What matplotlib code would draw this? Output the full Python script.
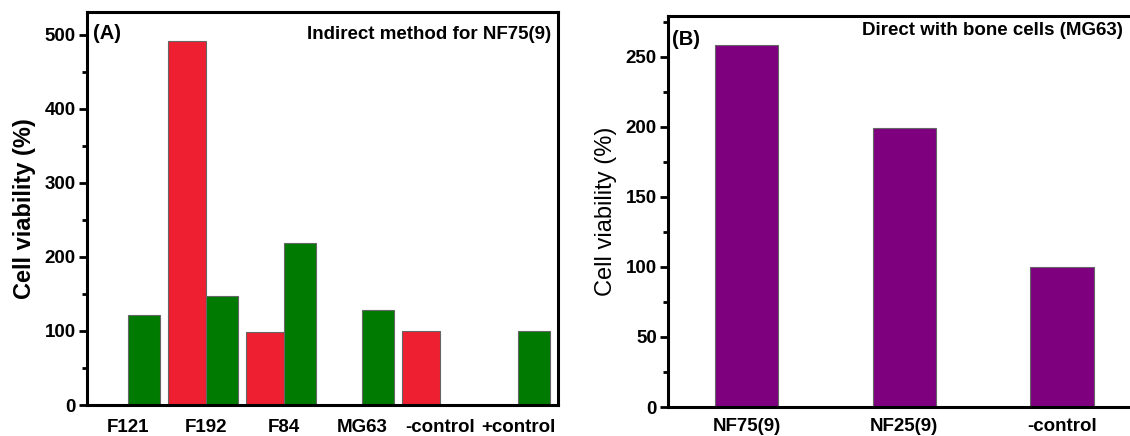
import numpy as np
from matplotlib import pyplot as plt
from matplotlib.ticker import MultipleLocator

plt.rcParams['font.family'] = ['Liberation Sans', 'DejaVu Sans']

# panel A data
kelompok_a = ["F121", "F192", "F84", "MG63", "-control", "+control"]
merah_a = [np.nan, 491, 98, np.nan, 100, np.nan]
hijau_a = [122, 147, 219, 128, np.nan, 100]

# panel B data
kelompok_b = ["NF75(9)", "NF25(9)", "-control"]
ungu_b = [258, 199, 100]

fig = plt.figure(figsize=(11.3, 4.36), dpi=100)

# grafik A
ax1 = fig.add_axes([0.077, 0.0711, 0.417, 0.9991 - 0.0711 - 0.0275])
x = np.arange(len(kelompok_a))
ax1.bar(x, merah_a, width=-0.49, align='edge', color='#ee1f30', edgecolor='#666666', linewidth=0.8)
ax1.bar(x, hijau_a, width=0.41, align='edge', color='#007a00', edgecolor='#666666', linewidth=0.8)
ax1.set_xlim(-0.526, 5.513)
ax1.set_ylim(0, 530)
ax1.set_xticks(x)
ax1.set_xticklabels(kelompok_a, fontsize=13.5, fontweight='bold')
ax1.tick_params(axis='x', length=0, pad=10)
ax1.yaxis.set_major_locator(MultipleLocator(100))
ax1.yaxis.set_minor_locator(MultipleLocator(50))
ax1.tick_params(axis='y', which='major', length=6, width=2, labelsize=13.5, pad=2)
ax1.tick_params(axis='y', which='minor', length=3.5, width=2)
for t in ax1.get_yticklabels():
    t.set_fontweight('bold')
for s in ax1.spines.values():
    s.set_linewidth(2.2)
ax1.set_ylabel("Cell viability (%)", fontsize=17, fontweight='bold', labelpad=6)
ax1.text(0.013, 0.97, "(A)", transform=ax1.transAxes, fontsize=14.5, fontweight='bold', va='top', ha='left')
ax1.text(0.985, 0.966, "Indirect method for NF75(9)", transform=ax1.transAxes, fontsize=13.5, fontweight='bold', va='top', ha='right')

# grafik B
ax2 = fig.add_axes([0.591, 0.0665, 0.4186, 0.9633 - 0.0665])
xb = np.arange(len(kelompok_b))
ax2.bar(xb, ungu_b, width=0.4, color='#7f007f', edgecolor='#666666', linewidth=0.8)
ax2.set_xlim(-0.5, 2.5)
ax2.set_ylim(0, 279)
ax2.set_xticks(xb)
ax2.set_xticklabels(kelompok_b, fontsize=13.5, fontweight='bold')
ax2.tick_params(axis='x', length=0, pad=8)
ax2.yaxis.set_major_locator(MultipleLocator(50))
ax2.yaxis.set_minor_locator(MultipleLocator(25))
ax2.tick_params(axis='y', which='major', length=6, width=2, labelsize=13.5, pad=2)
ax2.tick_params(axis='y', which='minor', length=3.5, width=2)
for t in ax2.get_yticklabels():
    t.set_fontweight('bold')
for s in ax2.spines.values():
    s.set_linewidth(2.2)
ax2.set_ylabel("Cell viability (%)", fontsize=17, labelpad=6)
ax2.text(0.009, 0.965, "(B)", transform=ax2.transAxes, fontsize=14.5, fontweight='bold', va='top', ha='left')
ax2.text(0.41, 0.985, "Direct with bone cells (MG63)", transform=ax2.transAxes, fontsize=13.5, fontweight='bold', va='top', ha='left')

plt.savefig("out.png", dpi=100)
